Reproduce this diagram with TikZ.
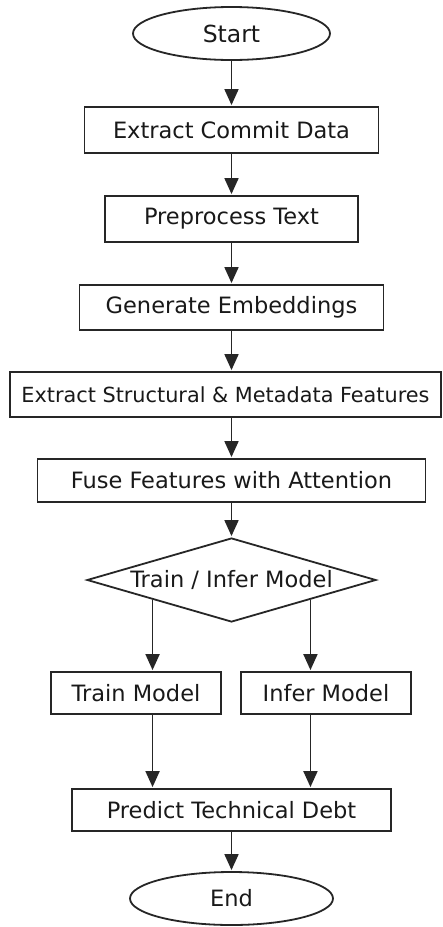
\documentclass[tikz,border=0pt]{standalone}
\usepackage{fontspec}
\setmainfont{DejaVu Sans}
\usetikzlibrary{shapes.geometric,arrows.meta,calc}

\tikzset{
  ink/.style={draw=black!85, line width=1.8pt},
  label/.style={text=black!90, font=\fontsize{22.5}{27}\selectfont},
  fs/.style={font=\fontsize{#1}{#1}\selectfont},
  procbox/.style={ink, label, rectangle, inner sep=0pt},
  terminal/.style={ink, label, ellipse, inner sep=0pt},
  decision/.style={ink, label, diamond, inner sep=0pt, aspect=3.44},
  arr/.style={draw=black!85, line width=1.8pt,
    -{Triangle[length=16pt,width=14pt]}, shorten >=1pt}
}

\begin{document}
\begin{tikzpicture}[x=1pt,y=-1pt]
  \useasboundingbox[fill=white] (0,0) rectangle (443,927);

  % main column of steps
  \node[terminal, fs=23.5, minimum width=197pt, minimum height=53pt] (start) at (231.5,33.5) {Start};
  \node[procbox, minimum width=294pt, minimum height=46pt] (extract) at (231.5,130) {Extract Commit Data};
  \node[procbox, minimum width=253pt, minimum height=46pt] (prep) at (231.5,219) {Preprocess Text};
  \node[procbox, minimum width=304pt, minimum height=45pt] (embed) at (231.5,307.5) {Generate Embeddings};
  \node[procbox, fs=20.8, minimum width=431pt, minimum height=45pt] (struct) at (225.5,394.5) {Extract Structural \& Metadata Features};
  \node[procbox, minimum width=388pt, minimum height=43pt] (fuse) at (231.5,480.5) {Fuse Features with Attention};
  \node[decision, minimum width=289pt, minimum height=84pt] (choice) at (231.5,580) {Train / Infer Model};

  % the two branches
  \node[procbox, minimum width=170pt, minimum height=42pt] (train) at (136,693) {Train Model};
  \node[procbox, minimum width=170pt, minimum height=42pt] (infer) at (326,693) {Infer Model};

  \node[procbox, minimum width=319pt, minimum height=42pt] (predict) at (231.5,810) {Predict Technical Debt};
  \node[terminal, minimum width=203pt, minimum height=53pt] (finish) at (231.5,898.5) {End};

  % connectors
  \draw[arr] (start.south) -- (extract.north);
  \draw[arr] (extract.south) -- (prep.north);
  \draw[arr] (prep.south) -- (embed.north);
  \draw[arr] (embed.south) -- (embed.south |- struct.north);
  \draw[arr] (embed.south |- struct.south) -- (fuse.north);
  \draw[arr] (fuse.south) -- (choice.north);

  \coordinate (outL) at ($(choice.west)!0.457!(choice.south)$);
  \coordinate (outR) at ($(choice.east)!0.457!(choice.south)$);
  \draw[arr] (outL) -- (outL |- train.north);
  \draw[arr] (outR) -- (outR |- infer.north);
  \draw[arr] (outL |- train.south) -- (outL |- predict.north);
  \draw[arr] (outR |- infer.south) -- (outR |- predict.north);

  \draw[arr] (predict.south) -- (finish.north);
\end{tikzpicture}
\end{document}
